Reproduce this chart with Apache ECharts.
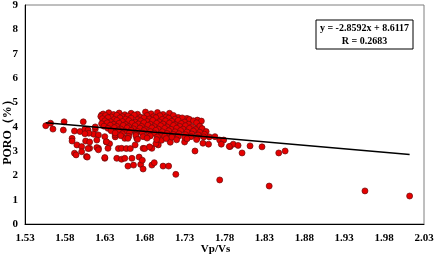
<!DOCTYPE html>
<html>
<head>
<meta charset="utf-8">
<script src="https://cdn.jsdelivr.net/npm/echarts@6/dist/echarts.min.js"></script>
<style>
  html, body { margin: 0; padding: 0; background: #fff; }
  #chart { width: 434px; height: 257px; }
</style>
</head>
<body>
<div id="chart"></div>
<script>
// 点数据 [Vp/Vs, PORO]
const clusterPoints = [
  [1.628,4.52],[1.635,4.57],[1.641,4.50],[1.648,4.56],[1.655,4.49],[1.663,4.55],[1.671,4.51],[1.681,4.60],[1.688,4.53],[1.696,4.58],[1.703,4.50],[1.711,4.55],
  [1.625,4.42],[1.631,4.46],[1.638,4.40],[1.645,4.47],[1.652,4.41],[1.659,4.44],[1.667,4.48],[1.675,4.39],[1.683,4.46],[1.691,4.41],[1.699,4.45],[1.707,4.40],[1.716,4.46],[1.722,4.38],
  [1.627,4.33],[1.634,4.37],[1.642,4.30],[1.649,4.36],[1.656,4.31],[1.663,4.35],[1.671,4.29],[1.679,4.36],[1.686,4.32],[1.694,4.37],[1.702,4.30],[1.710,4.35],[1.718,4.31],[1.727,4.36],[1.736,4.30],
  [1.630,4.24],[1.637,4.20],[1.645,4.26],[1.652,4.21],[1.660,4.25],[1.668,4.19],[1.675,4.24],[1.683,4.21],[1.690,4.26],[1.698,4.20],[1.706,4.24],[1.714,4.22],[1.722,4.26],[1.730,4.19],[1.741,4.24],
  [1.626,4.12],[1.633,4.16],[1.641,4.10],[1.648,4.14],[1.656,4.09],[1.664,4.15],[1.672,4.11],[1.679,4.16],[1.687,4.10],[1.695,4.14],[1.703,4.11],[1.711,4.15],[1.718,4.09],[1.726,4.13],[1.735,4.10],[1.745,4.16],
  [1.629,4.02],[1.637,4.06],[1.645,4.01],[1.653,4.05],[1.660,4.00],[1.668,4.04],[1.676,4.01],[1.684,4.06],[1.692,4.00],[1.700,4.04],[1.708,3.99],[1.716,4.05],[1.724,4.01],[1.731,4.04],[1.739,3.99],[1.749,4.02],
  [1.634,3.93],[1.642,3.96],[1.650,3.90],[1.658,3.95],[1.666,3.91],[1.674,3.94],[1.681,3.89],[1.689,3.95],[1.697,3.90],[1.705,3.93],[1.713,3.89],[1.720,3.94],[1.728,3.90],[1.736,3.93],[1.744,3.88],[1.752,3.92],
  [1.638,3.83],[1.647,3.86],[1.655,3.81],[1.663,3.85],[1.671,3.80],[1.679,3.84],[1.687,3.80],[1.694,3.85],[1.702,3.79],[1.710,3.83],[1.718,3.79],[1.725,3.84],[1.733,3.78],[1.741,3.82],[1.749,3.77],[1.757,3.80],
  [1.643,3.74],[1.652,3.71],[1.661,3.75],[1.669,3.70],[1.677,3.74],[1.685,3.69],[1.692,3.73],[1.700,3.68],[1.708,3.72],[1.716,3.68],[1.723,3.71],[1.731,3.67],[1.739,3.70],[1.747,3.66],[1.755,3.69],
  [1.650,3.63],[1.660,3.60],[1.669,3.64],[1.678,3.59],[1.687,3.62],[1.696,3.58],[1.705,3.61],[1.714,3.57],[1.722,3.60],[1.730,3.56],[1.738,3.59],[1.746,3.55],[1.754,3.58],
  [1.659,3.52],[1.671,3.48],[1.683,3.53],[1.695,3.47],[1.707,3.51],[1.720,3.46],[1.733,3.50],[1.745,3.47]
]
const scatterPoints = [
  [1.556,4.04],[1.562,4.14],[1.565,3.90],[1.579,4.20],[1.578,3.86],[1.603,4.20],[1.592,3.82],[1.599,3.80],
  [1.605,3.90],[1.609,3.86],[1.618,3.90],[1.616,3.69],[1.622,3.66],[1.610,3.73],[1.589,3.52],[1.589,3.41],
  [1.620,3.45],[1.606,3.41],[1.595,3.25],[1.601,3.18],[1.611,3.11],[1.622,3.11],[1.592,2.91],[1.594,2.84],
  [1.607,2.77],[1.601,2.97],[1.626,4.48],[1.628,4.27],[1.630,2.70],[1.618,3.99],[1.605,3.71],[1.611,3.37],
  [1.609,3.10],[1.608,2.75],[1.620,3.14],[1.622,3.05],[1.632,3.37],[1.636,3.30],[1.643,3.58],[1.647,3.10],
  [1.630,3.59],[1.643,3.66],[1.632,3.38],[1.634,3.11],[1.651,3.11],[1.655,3.52],[1.670,3.52],[1.668,3.25],
  [1.678,3.11],[1.689,3.11],[1.697,3.25],[1.630,2.73],[1.645,2.70],[1.651,2.66],[1.655,2.70],[1.664,2.70],
  [1.659,2.38],[1.666,2.42],[1.675,2.45],[1.678,2.26],[1.689,2.42],[1.692,2.52],[1.703,2.38],[1.710,2.38],
  [1.657,3.10],[1.662,3.10],[1.673,2.75],[1.677,2.62],[1.680,3.10],[1.686,3.17],[1.694,3.30],[1.701,3.44],
  [1.719,2.04],[1.730,3.37],[1.743,3.00],[1.753,3.32],[1.760,3.28],[1.761,3.58],[1.710,3.59],[1.712,3.36],
  [1.720,4.34],[1.733,4.34],[1.733,4.18],[1.746,4.27],[1.751,4.23],[1.747,4.00],[1.768,3.59],[1.774,3.45],
  [1.779,3.45],[1.787,3.18],[1.791,3.28],[1.776,3.28],[1.786,3.19],[1.797,3.23],[1.802,2.92],[1.812,3.21],
  [1.827,3.17],[1.848,2.92],[1.856,3.00],[1.774,1.81],[1.836,1.56],[1.956,1.36],[2.012,1.15]
]
const fitSlope = -2.8592
const fitIntercept = 8.6117
const fitR = 0.2683
const fitRange = [1.556, 2.012]

const yLabels = ['0', '1', '2', '3', '4', '5', '6', '7', '8', '9']
const xLabels = ['1.53', '1.58', '1.63', '1.68', '1.73', '1.78', '1.83', '1.88', '1.93', '1.98', '2.03']

const font = 'Liberation Serif, Times New Roman, serif'
const labelStyle = { color: '#000', fontFamily: font, fontWeight: 'bold', fontSize: 11 }

const option = {
  animation: false,
  grid: {
    left: 25,
    right: 10,
    top: 5,
    bottom: 33,
    containLabel: false,
    outerBoundsMode: 'none',
    show: true,
    borderColor: '#7f7f7f',
    borderWidth: 1
  },
  xAxis: {
    type: 'value',
    min: 1.53,
    max: 2.03,
    interval: 0.05,
    name: 'Vp/Vs',
    nameLocation: 'middle',
    nameGap: 20,
    nameMoveOverlap: false,
    nameTextStyle: Object.assign({}, labelStyle, { padding: [0, 18, 0, 0] }),
    axisLine: { onZero: false, lineStyle: { color: '#000', width: 1 } },
    axisTick: { show: false },
    splitLine: { show: false },
    axisLabel: Object.assign({
      margin: 9,
      formatter: (v) => xLabels[Math.round((v - 1.53) / 0.05)]
    }, labelStyle)
  },
  yAxis: {
    type: 'value',
    min: 0,
    max: 9,
    interval: 1,
    name: 'PORO（%）',
    nameLocation: 'middle',
    nameGap: 11,
    nameMoveOverlap: false,
    nameTextStyle: Object.assign({}, labelStyle, { fontSize: 12, padding: [0, 30, 0, 0] }),
    axisLine: { show: true, lineStyle: { color: '#000', width: 1 } },
    axisTick: { show: false },
    splitLine: { show: false },
    axisLabel: Object.assign({
      margin: 7,
      formatter: (v) => yLabels[Math.round(v)]
    }, labelStyle)
  },
  graphic: [
    {
      type: 'rect',
      shape: { x: 316, y: 20, width: 97, height: 29 },
      style: { fill: '#fff', stroke: '#000', lineWidth: 1 }
    },
    {
      type: 'text',
      x: 364.5,
      y: 28,
      style: {
        text: 'y = ' + fitSlope + 'x + ' + fitIntercept,
        align: 'center', verticalAlign: 'middle',
        fill: '#000', font: 'bold 10px ' + font
      }
    },
    {
      type: 'text',
      x: 364.5,
      y: 41,
      style: {
        text: 'R = ' + fitR,
        align: 'center', verticalAlign: 'middle',
        fill: '#000', font: 'bold 10px ' + font
      }
    }
  ],
  series: [
    {
      type: 'scatter',
      data: scatterPoints.concat(clusterPoints),
      symbolSize: 6,
      itemStyle: { color: '#e60000', borderColor: '#6a0c0c', borderWidth: 0.7, opacity: 1 },
      z: 2
    },
    {
      type: 'line',
      data: fitRange.map((x) => [x, fitSlope * x + fitIntercept]),
      symbol: 'none',
      lineStyle: { color: '#000', width: 1.6 },
      z: 3
    }
  ]
}

const myChart = echarts.init(document.getElementById('chart'))
myChart.setOption(option)
</script>
</body>
</html>
